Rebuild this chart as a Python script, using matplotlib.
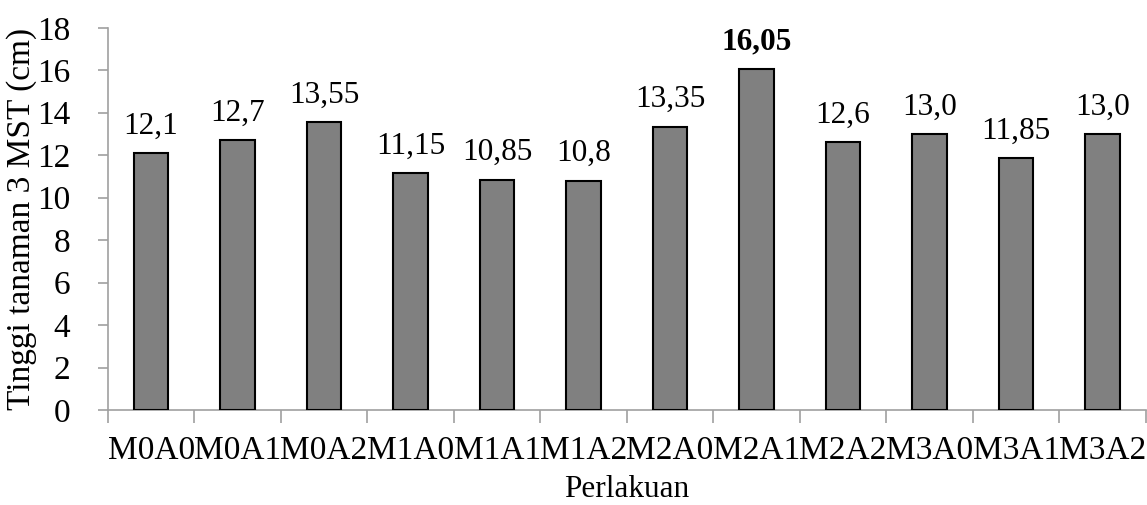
import matplotlib
matplotlib.use("Agg")
from matplotlib import pyplot as plt
import numpy as np

# data
categories = ['M0A0', 'M0A1', 'M0A2', 'M1A0', 'M1A1', 'M1A2',
              'M2A0', 'M2A1', 'M2A2', 'M3A0', 'M3A1', 'M3A2']
values = [12.1, 12.7, 13.55, 11.15, 10.85, 10.8, 13.35, 16.05, 12.6, 13.0, 11.85, 13.0]
labels = ['12,1', '12,7', '13,55', '11,15', '10,85', '10,8',
          '13,35', '16,05', '12,6', '13,0', '11,85', '13,0']
bold_index = 7

plt.rcParams['font.family'] = ['Liberation Serif', 'DejaVu Serif']

fig = plt.figure(figsize=(11.47, 5.05), dpi=100)
ax = fig.add_axes([0.094, 0.188, 0.905, 0.757])

x = np.arange(len(categories))
ax.bar(x, values, width=0.4, color='#808080', edgecolor='black', linewidth=1.5, zorder=3)

# value labels above bars
for i, (v, lab) in enumerate(zip(values, labels)):
    ax.annotate(lab, (i, v), xytext=(0, 9), textcoords='offset points',
                ha='center', va='bottom', fontsize=22.5,
                fontweight='bold' if i == bold_index else 'normal')

ax.set_xlim(-0.5, len(categories) - 0.5)
ax.set_ylim(0, 18)
ax.set_yticks(range(0, 19, 2))

# category names centred under bars, tick marks on boundaries
ax.set_xticks(x)
ax.set_xticklabels(categories, fontsize=24)
ax.tick_params(axis='x', length=0, pad=18)
ax.set_xticks(np.arange(-0.5, len(categories), 1), minor=True)
ax.tick_params(axis='x', which='minor', length=9, width=1.2, color='#a0a0a0', direction='out')
ax.tick_params(axis='y', labelsize=24, length=7, width=1.2, color='#a0a0a0', direction='out', pad=20)

for s in ['top', 'right']:
    ax.spines[s].set_visible(False)
for s in ['left', 'bottom']:
    ax.spines[s].set_color('#a0a0a0')
    ax.spines[s].set_linewidth(1.2)

ax.set_ylabel('Tinggi tanaman 3 MST (cm)', fontsize=24, labelpad=0)
ax.set_xlabel('Perlakuan', fontsize=22.5, labelpad=7)

plt.savefig('out.png', dpi=100)
